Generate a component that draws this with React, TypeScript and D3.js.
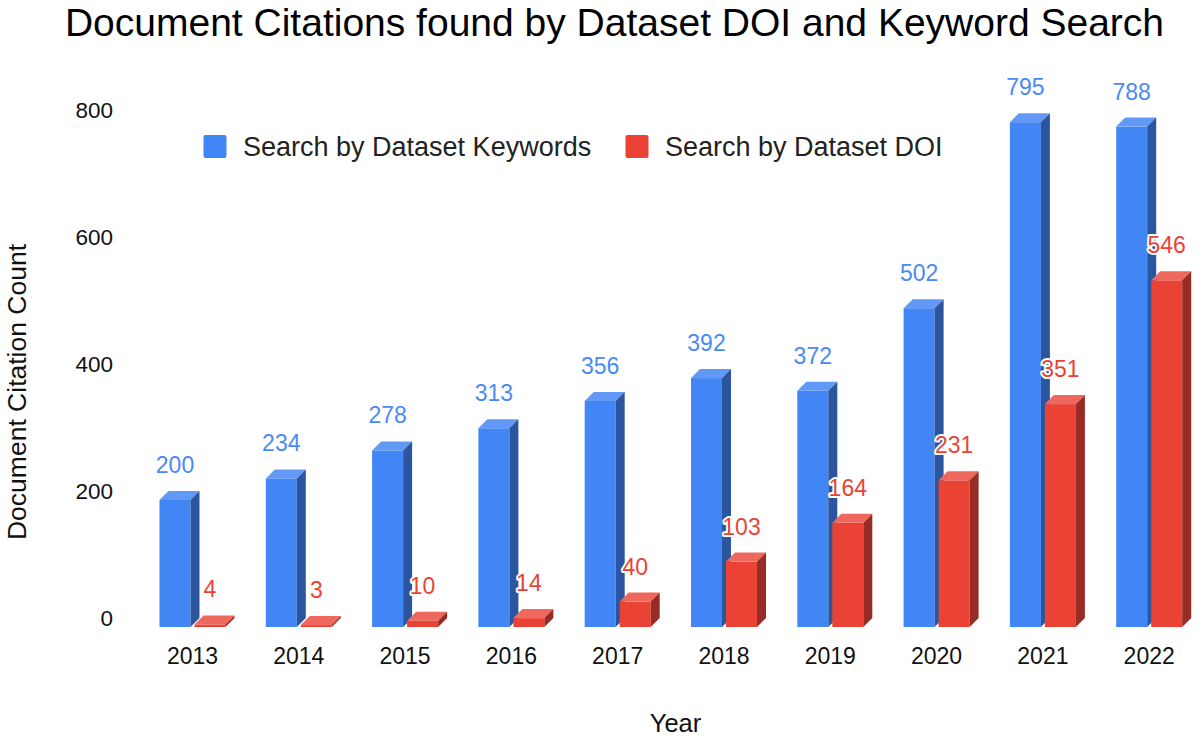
import React, { useRef, useEffect } from 'react';
import * as d3 from 'd3';

const years = ['2013', '2014', '2015', '2016', '2017', '2018', '2019', '2020', '2021', '2022'];
const keywordCounts = [200, 234, 278, 313, 356, 392, 372, 502, 795, 788];
const doiCounts = [4, 3, 10, 14, 40, 103, 164, 231, 351, 546];
const yTicks = [0, 200, 400, 600, 800];
const seriesNames = ['Search by Dataset Keywords', 'Search by Dataset DOI'];

const FONT = '"Liberation Sans", Arial, sans-serif';

const App: React.FC = () => {
  const chartRef = useRef<HTMLDivElement>(null);

  useEffect(() => {
    document.body.style.margin = '0';
    d3.select(chartRef.current).select('svg').remove();

    const width = 1200;
    const height = 740;
    const depth = 9;

    const svg = d3.select(chartRef.current)
      .append('svg')
      .attr('width', width)
      .attr('height', height)
      .style('display', 'block')
      .style('font-family', FONT);

    const x0 = d3.scaleBand()
      .domain(years)
      .range([139.35, 1202.35])
      .paddingInner(0.379)
      .paddingOuter(0.1895);

    const x1 = d3.scaleBand()
      .domain(['kw', 'doi'])
      .range([0, x0.bandwidth()])
      .paddingInner(0.114);

    const y = d3.scaleLinear().domain([0, 800]).range([618, 110]);

    const series = [
      { key: 'kw', values: keywordCounts, front: '#4285f4', top: '#6399f6', side: '#2b569f', label: '#4a8af4' },
      { key: 'doi', values: doiCounts, front: '#ea4335', top: '#ee685d', side: '#982b23', label: '#ea4335' },
    ];

    // title
    svg.append('text')
      .attr('x', 614.5)
      .attr('y', 36)
      .attr('text-anchor', 'middle')
      .style('font-size', '39px')
      .attr('fill', '#000')
      .text('Document Citations found by Dataset DOI and Keyword Search');

    // y ticks
    svg.selectAll('.yTick')
      .data(yTicks)
      .enter().append('text')
      .attr('class', 'yTick')
      .attr('x', 113)
      .attr('y', d => y(d))
      .attr('dy', '0.35em')
      .attr('text-anchor', 'end')
      .style('font-size', '22.5px')
      .attr('fill', '#111')
      .text(d => d.toString());

    // x ticks
    svg.selectAll('.xTick')
      .data(years)
      .enter().append('text')
      .attr('class', 'xTick')
      .attr('x', d => (x0(d) as number) + x0.bandwidth() / 2)
      .attr('y', 664)
      .attr('text-anchor', 'middle')
      .style('font-size', '23px')
      .attr('fill', '#111')
      .text(d => d);

    // axis titles
    svg.append('text')
      .attr('transform', 'translate(26,392) rotate(-90)')
      .attr('text-anchor', 'middle')
      .style('font-size', '26.5px')
      .attr('fill', '#111')
      .text('Document Citation Count');

    svg.append('text')
      .attr('x', 675.5)
      .attr('y', 731.5)
      .attr('text-anchor', 'middle')
      .style('font-size', '25.5px')
      .attr('fill', '#111')
      .text('Year');

    // bars
    const base = y(0) + depth;
    const bars = svg.append('g');
    years.forEach((yr, i) => {
      series.forEach(s => {
        const bx = (x0(yr) as number) + (x1(s.key) as number);
        const bw = x1.bandwidth();
        const yf = y(s.values[i]) + depth;
        bars.append('rect')
          .attr('x', bx)
          .attr('y', yf)
          .attr('width', bw)
          .attr('height', base - yf)
          .attr('fill', s.front);
        bars.append('polygon')
          .attr('points', [[bx, yf], [bx + depth, yf - depth], [bx + bw + depth, yf - depth], [bx + bw, yf]].map(p => p.join(',')).join(' '))
          .attr('fill', s.top);
        bars.append('polygon')
          .attr('points', [[bx + bw, yf], [bx + bw + depth, yf - depth], [bx + bw + depth, base - depth], [bx + bw, base]].map(p => p.join(',')).join(' '))
          .attr('fill', s.side);
      });
    });

    // data labels
    years.forEach((yr, i) => {
      series.forEach(s => {
        const bx = (x0(yr) as number) + (x1(s.key) as number);
        svg.append('text')
          .attr('x', bx + x1.bandwidth() / 2)
          .attr('y', y(s.values[i]) - 18)
          .attr('text-anchor', 'middle')
          .style('font-size', '23px')
          .style('paint-order', 'stroke')
          .attr('stroke', '#fff')
          .attr('stroke-width', 4)
          .attr('stroke-linejoin', 'round')
          .attr('fill', s.label)
          .text(s.values[i].toString());
      });
    });

    // legend
    const legendX = [203.5, 625.5];
    series.forEach((s, i) => {
      svg.append('rect')
        .attr('x', legendX[i])
        .attr('y', 135)
        .attr('width', 23)
        .attr('height', 23)
        .attr('rx', 2)
        .attr('fill', s.front);
      svg.append('text')
        .attr('x', legendX[i] + 39.5)
        .attr('y', 155.5)
        .style('font-size', '27px')
        .attr('fill', '#222')
        .text(seriesNames[i]);
    });
  }, []);

  return <div ref={chartRef} />;
};

export default App;
